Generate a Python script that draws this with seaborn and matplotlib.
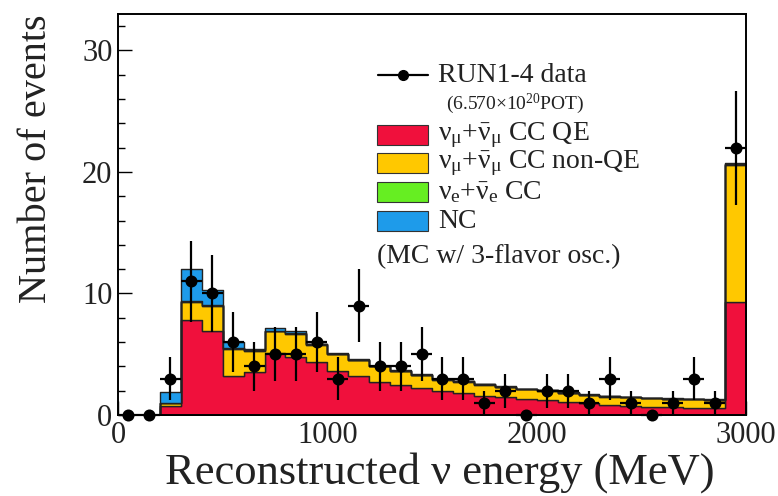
import numpy as np
import pandas as pd
import matplotlib
matplotlib.use("Agg")
import matplotlib.pyplot as plt
from matplotlib.patches import Rectangle
from matplotlib.lines import Line2D
from matplotlib.ticker import MultipleLocator
import seaborn as sns

# ---------------- data ----------------
bin_edges = [0, 100, 200, 300, 400, 500, 600, 700, 800, 900, 1000, 1100, 1200, 1300, 1400,
             1500, 1600, 1700, 1800, 1900, 2000, 2100, 2200, 2300, 2400, 2500, 2600, 2700,
             2800, 2900, 3000]
bin_centers = [50, 150, 250, 350, 450, 550, 650, 750, 850, 950, 1050, 1150, 1250, 1350, 1450,
               1550, 1650, 1750, 1850, 1950, 2050, 2150, 2250, 2350, 2450, 2550, 2650, 2750,
               2850, 2950]

data_counts = [0, 0, 3, 11, 10, 6, 4, 5, 5, 6, 3, 9, 4, 4, 5,
               3, 3, 1, 2, 0, 2, 2, 1, 3, 1, 0, 1, 3, 1, 22]

mc_ccqe = [0, 0, 0.7, 7.8, 6.9, 3.2, 3.5, 5.1, 4.8, 4.35, 3.6, 3.2, 2.75, 2.45, 2.2,
           2.0, 1.8, 1.6, 1.45, 1.3, 1.23, 1.1, 0.96, 0.83, 0.75, 0.68, 0.63, 0.6, 0.55, 9.3]
mc_ccnonqe = [0, 0, 0.25, 1.5, 2.1, 2.25, 1.8, 1.8, 1.9, 1.45, 1.4, 1.3, 1.25, 1.15, 1.1,
              0.9, 0.95, 0.9, 0.85, 0.8, 0.77, 0.7, 0.69, 0.67, 0.7, 0.7, 0.69, 0.68, 0.68, 11.3]
mc_nue = [0, 0, 0.05, 0.05, 0.05, 0.04, 0.03, 0.03, 0.03, 0.03, 0.03, 0.03, 0.03, 0.03, 0.03,
          0.03, 0.03, 0.03, 0.03, 0.03, 0.03, 0.03, 0.03, 0.03, 0.03, 0.03, 0.03, 0.03, 0.03, 0.05]
mc_nc = [0, 0, 0.9, 2.7, 1.25, 0.5, 0.1, 0.2, 0.15, 0.05, 0.04, 0.04, 0.04, 0.04, 0.03,
         0.03, 0.03, 0.03, 0.03, 0.03, 0.03, 0.03, 0.03, 0.03, 0.03, 0.03, 0.03, 0.03, 0.03, 0.05]

components = ["NC", "nue CC", "numu CC non-QE", "numu CC QE"]   # top -> bottom
comp_values = {"numu CC QE": mc_ccqe, "numu CC non-QE": mc_ccnonqe,
               "nue CC": mc_nue, "NC": mc_nc}
comp_colors = {"numu CC QE": "#F0103C", "numu CC non-QE": "#FFC800",
               "nue CC": "#66EE22", "NC": "#1E9BEA"}

rows = []
for c in components:
    for x, w in zip(bin_centers, comp_values[c]):
        rows.append({"energy": x, "weight": w, "component": c})
df = pd.DataFrame(rows)

# ---------------- style ----------------
sns.set_style("ticks")
plt.rcParams["font.family"] = ["Liberation Serif", "DejaVu Serif"]
plt.rcParams["mathtext.fontset"] = "custom"
plt.rcParams["mathtext.rm"] = "Liberation Serif"
plt.rcParams["mathtext.it"] = "Liberation Serif"
plt.rcParams["mathtext.bf"] = "Liberation Serif:bold"

W, H = 778, 496
fig = plt.figure(figsize=(W / 100, H / 100), dpi=100)
ax = fig.add_axes([118 / W, 1 - 415 / H, (746 - 118) / W, (415 - 14) / H])

sns.histplot(data=df, x="energy", weights="weight", hue="component",
             hue_order=components, palette=comp_colors, bins=bin_edges,
             multiple="stack", element="step", fill=True, alpha=1.0,
             edgecolor="#222222", linewidth=1.0, legend=False, ax=ax)

# data points
yerr = np.sqrt(np.array(data_counts, dtype=float))
ax.errorbar(bin_centers, data_counts, xerr=50, yerr=yerr, fmt="none",
            ecolor="black", elinewidth=1.6, capsize=0, zorder=5, clip_on=False)
sns.scatterplot(x=bin_centers, y=data_counts, color="black", s=75,
                edgecolor="black", linewidth=0, zorder=6, ax=ax, clip_on=False)

ax.set_xlim(0, 3000)
ax.set_ylim(0, 33)
ax.xaxis.set_major_locator(MultipleLocator(1000))
ax.xaxis.set_minor_locator(MultipleLocator(200))
ax.yaxis.set_major_locator(MultipleLocator(10))
ax.yaxis.set_minor_locator(MultipleLocator(2))
ax.tick_params(which="both", direction="in", top=False, right=False,
               width=1.0, color="black")
ax.tick_params(which="major", length=10, labelsize=22, pad=4)
ax.tick_params(which="minor", length=5)
for s in ax.spines.values():
    s.set_visible(True)
    s.set_linewidth(1.4)
    s.set_color("black")

ax.set_xlabel("Reconstructed ν energy (MeV)", fontsize=32, color="#222222")
ax.set_ylabel("Number of events", fontsize=29, color="#222222")
ax.xaxis.set_label_coords(0.513, -0.093, transform=ax.transAxes)
ax.yaxis.set_label_coords(-0.129, 0.64, transform=ax.transAxes)
ax.yaxis.label.set_va("center")
ax.xaxis.label.set_va("top")
for lab in ax.get_xticklabels() + ax.get_yticklabels():
    lab.set_color("#222222")


# ---------------- legend (manual) ----------------
def fx(x):
    return x / W


def fy(y):
    return 1 - y / H


fig.add_artist(Line2D([fx(378), fx(428)], [fy(75), fy(75)], color="black", lw=1.6))
fig.add_artist(Line2D([fx(403)], [fy(75)], color="black", marker="o", markersize=7, lw=0))
fig.text(fx(438), fy(75), "RUN1-4 data", fontsize=20, va="center", ha="left", color="#222222")
fig.text(fx(446), fy(104), r"(6.570$\times$10$^{20}$POT)", fontsize=14, va="center",
         ha="left", color="#222222")

legend_rows = [
    ("numu CC QE", 135, r"$\nu_{\mu}$+$\bar{\nu}_{\mu}$ CC QE"),
    ("numu CC non-QE", 163, r"$\nu_{\mu}$+$\bar{\nu}_{\mu}$ CC non-QE"),
    ("nue CC", 192, r"$\nu_{e}$+$\bar{\nu}_{e}$ CC"),
    ("NC", 221, "NC"),
]
for comp, yc, label in legend_rows:
    fig.add_artist(Rectangle((fx(377), fy(yc + 10)), fx(428) - fx(377), fy(yc - 10) - fy(yc + 10),
                             facecolor=comp_colors[comp], edgecolor="#333333", lw=0.8,
                             transform=fig.transFigure))
    fig.text(fx(438), fy(yc), label, fontsize=20, va="center", ha="left", color="#222222")

fig.text(fx(377), fy(257), "(MC w/ 3-flavor osc.)", fontsize=20, va="center", ha="left",
         color="#222222")

fig.savefig("out.png", dpi=100)
